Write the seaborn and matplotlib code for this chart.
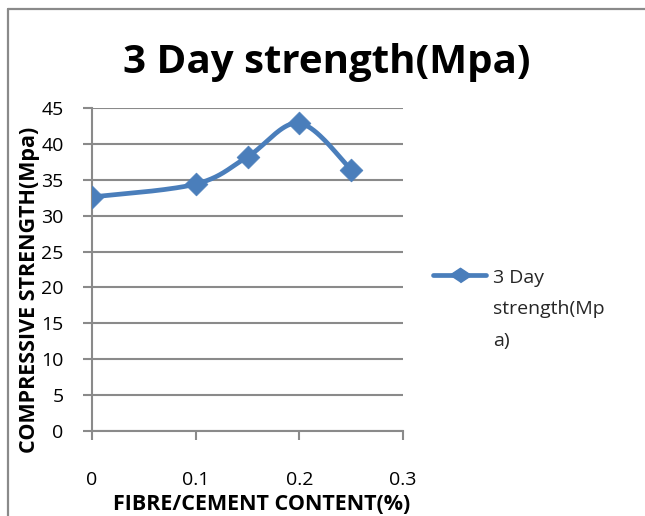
import numpy as np
import pandas as pd
import seaborn as sns
import matplotlib
matplotlib.use("Agg")
import matplotlib.pyplot as plt
from matplotlib.lines import Line2D

# Fibre/cement content (%) and 3-day compressive strength (MPa)
fibre_content = [0.0, 0.1, 0.15, 0.2, 0.25]
strength_3day = [32.6, 34.4, 38.2, 42.9, 36.4]
series_name = "3 Day strength(Mpa)"
legend_label = "3 Day\nstrength(Mp\na)"
x_ticks = [0, 0.1, 0.2, 0.3]
x_tick_labels = ["0", "0.1", "0.2", "0.3"]
y_ticks = list(range(0, 50, 5))

BLUE = "#4A7EBB"
GRID = "#8A8A8A"
FONT = "Open Sans"

sns.set_theme(style="white")
plt.rcParams["font.family"] = [FONT, "DejaVu Sans"]

df = pd.DataFrame({"content": fibre_content, "strength": strength_3day})


def smooth_curve(xs, ys, n=40):
    """Cardinal (Catmull-Rom style) Bezier smoothing through the points."""
    p = np.column_stack([xs, ys]).astype(float)
    out = []
    for i in range(len(p) - 1):
        p0 = p[i - 1] if i > 0 else p[i]
        p1, p2 = p[i], p[i + 1]
        p3 = p[i + 2] if i + 2 < len(p) else p[i + 1]
        c1 = p1 + (p2 - p0) / 6.0
        c2 = p2 - (p3 - p1) / 6.0
        t = np.linspace(0, 1, n)[:, None]
        seg = ((1 - t) ** 3) * p1 + 3 * ((1 - t) ** 2) * t * c1 + 3 * (1 - t) * t ** 2 * c2 + t ** 3 * p2
        out.append(seg if i == 0 else seg[1:])
    return np.vstack(out)


curve = smooth_curve(df["content"], df["strength"])
curve_df = pd.DataFrame({"content": curve[:, 0], "strength": curve[:, 1]})

fig = plt.figure(figsize=(6.45, 5.16), dpi=100)
ax = fig.add_axes([92 / 645, 1 - 431 / 516, 311 / 645, 323 / 516])

sns.lineplot(data=curve_df, x="content", y="strength", ax=ax, color=BLUE,
             linewidth=3.4, sort=False, estimator=None, legend=False, zorder=3)
sns.scatterplot(data=df, x="content", y="strength", ax=ax, color=BLUE,
                marker="D", s=135, edgecolor=BLUE, linewidth=0.5, legend=False, zorder=4)

ax.set_xlim(0, 0.3)
ax.set_ylim(0, 45)
ax.set_xticks(x_ticks)
ax.set_xticklabels(x_tick_labels)
ax.set_yticks(y_ticks)
ax.yaxis.grid(True, color=GRID, linewidth=1.5)
ax.xaxis.grid(False)
ax.set_axisbelow(True)

for side in ["top", "right"]:
    ax.spines[side].set_visible(False)
for side in ["left", "bottom"]:
    ax.spines[side].set_color(GRID)
    ax.spines[side].set_linewidth(1.5)

ax.tick_params(axis="both", which="major", direction="out", length=6.5, width=1.5,
               color=GRID, labelsize=14, labelcolor="black")
ax.tick_params(axis="y", pad=14, left=True)
ax.tick_params(axis="x", pad=22, bottom=True)

ax.set_xlabel("FIBRE/CEMENT CONTENT(%)", fontsize=15.5, fontweight="bold",
              color="black", va="center")
ax.xaxis.set_label_coords((262 - 92) / 311, (431 - 505) / 323)
ax.set_ylabel("COMPRESSIVE STRENGTH(Mpa)", fontsize=15.5, fontweight="bold",
              color="black", va="center")
ax.yaxis.set_label_coords((30 - 92) / 311, (431 - 290) / 323)

fig.text(327 / 645, 1 - 73 / 516, series_name, ha="center", va="baseline",
         fontsize=29, fontweight="bold", color="black")

# Legend entry: wide diamond on a short line, label wrapped over three lines
legend_marker = [(-1.5, 0), (0, 1), (1.5, 0), (0, -1)]
handle = Line2D([], [], color=BLUE, linewidth=3.4, marker=legend_marker, markersize=15.6,
                markerfacecolor=BLUE, markeredgecolor=BLUE)
leg = fig.legend([handle], [legend_label], loc="upper left",
                 bbox_to_anchor=(433 / 645, 1 - 269 / 516), frameon=False,
                 fontsize=14, handlelength=2.75, handletextpad=0.35,
                 borderaxespad=0, borderpad=0)
line_step_pt = 34.5 * 72 / 100
leg.get_texts()[0].set_linespacing(1.95)
leg_line = leg.legend_handles[0]
leg_line.set_ydata(np.asarray(leg_line.get_ydata()) + line_step_pt)

# Chart frame along the left and top edges
fig.add_artist(Line2D([8 / 645, 8 / 645], [0, 1 - 9 / 516], transform=fig.transFigure,
                      color="#8A8A8A", linewidth=1.6))
fig.add_artist(Line2D([8 / 645, 1], [1 - 9 / 516, 1 - 9 / 516], transform=fig.transFigure,
                      color="#8A8A8A", linewidth=1.6))

fig.savefig("out.png", dpi=100)
